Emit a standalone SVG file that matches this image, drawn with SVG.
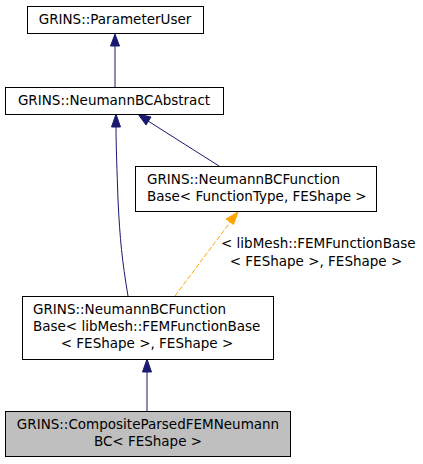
<svg xmlns="http://www.w3.org/2000/svg" width="423" height="464" viewBox="0 0 423 464">
<style>
.box{fill:#ffffff;stroke:#000000;stroke-width:1}
.cur{fill:#bfbfbf;stroke:#000000;stroke-width:1}
text{font-family:"DejaVu Sans",sans-serif;font-size:13.5px;fill:#000000}
.e{fill:none;stroke:#191970;stroke-width:1}
.t{fill:none;stroke:#ffa500;stroke-width:1;stroke-dasharray:5,2}
.ah{fill:#191970;stroke:#191970}
.ao{fill:#ffa500;stroke:#ffa500}
</style>
<rect width="423" height="464" fill="#ffffff"/>
<g id="connectors">
<path class="e" d="M115,88 L115,45"/>
<polygon class="ah" points="115,34 110.5,46 119.5,46"/>
<path class="e" d="M128,296 C122,260 120,240 118,200 C117,170 116,145 116,126"/>
<polygon class="ah" points="116,114 111.5,127 120.5,127"/>
<path class="e" d="M219,166 L148,121"/>
<polygon class="ah" points="138,114 151,117 146,125"/>
<path class="t" d="M175,296 L231,221"/>
<polygon class="ao" points="238,212 226,219 233.5,224.5"/>
<path class="e" d="M147,411 L147,371"/>
<polygon class="ah" points="147,359 142.5,372 151.5,372"/>
<text x="221" y="248">&lt; libMesh::FEMFunctionBase</text>
<text x="316" y="266" text-anchor="middle">&lt; FEShape &gt;, FEShape &gt;</text>
</g>
<g id="node1">
<rect class="box" x="27.5" y="6.5" width="176" height="27"/>
<text x="115" y="24" text-anchor="middle">GRINS::ParameterUser</text>
</g>
<g id="node2">
<rect class="box" x="5.5" y="87.5" width="218" height="27"/>
<text x="114" y="105" text-anchor="middle">GRINS::NeumannBCAbstract</text>
</g>
<g id="node3">
<rect class="box" x="135.5" y="166.5" width="241" height="45"/>
<text x="147" y="184">GRINS::NeumannBCFunction</text>
<text x="147" y="201">Base&lt; FunctionType, FEShape &gt;</text>
</g>
<g id="node4">
<rect class="box" x="22.5" y="296.5" width="251" height="63"/>
<text x="33" y="314">GRINS::NeumannBCFunction</text>
<text x="33" y="331">Base&lt; libMesh::FEMFunctionBase</text>
<text x="147" y="348" text-anchor="middle">&lt; FEShape &gt;, FEShape &gt;</text>
</g>
<g id="node5">
<rect class="cur" x="5.5" y="411.5" width="285" height="45"/>
<text x="148" y="429" text-anchor="middle">GRINS::CompositeParsedFEMNeumann</text>
<text x="148" y="446" text-anchor="middle">BC&lt; FEShape &gt;</text>
</g>
</svg>
